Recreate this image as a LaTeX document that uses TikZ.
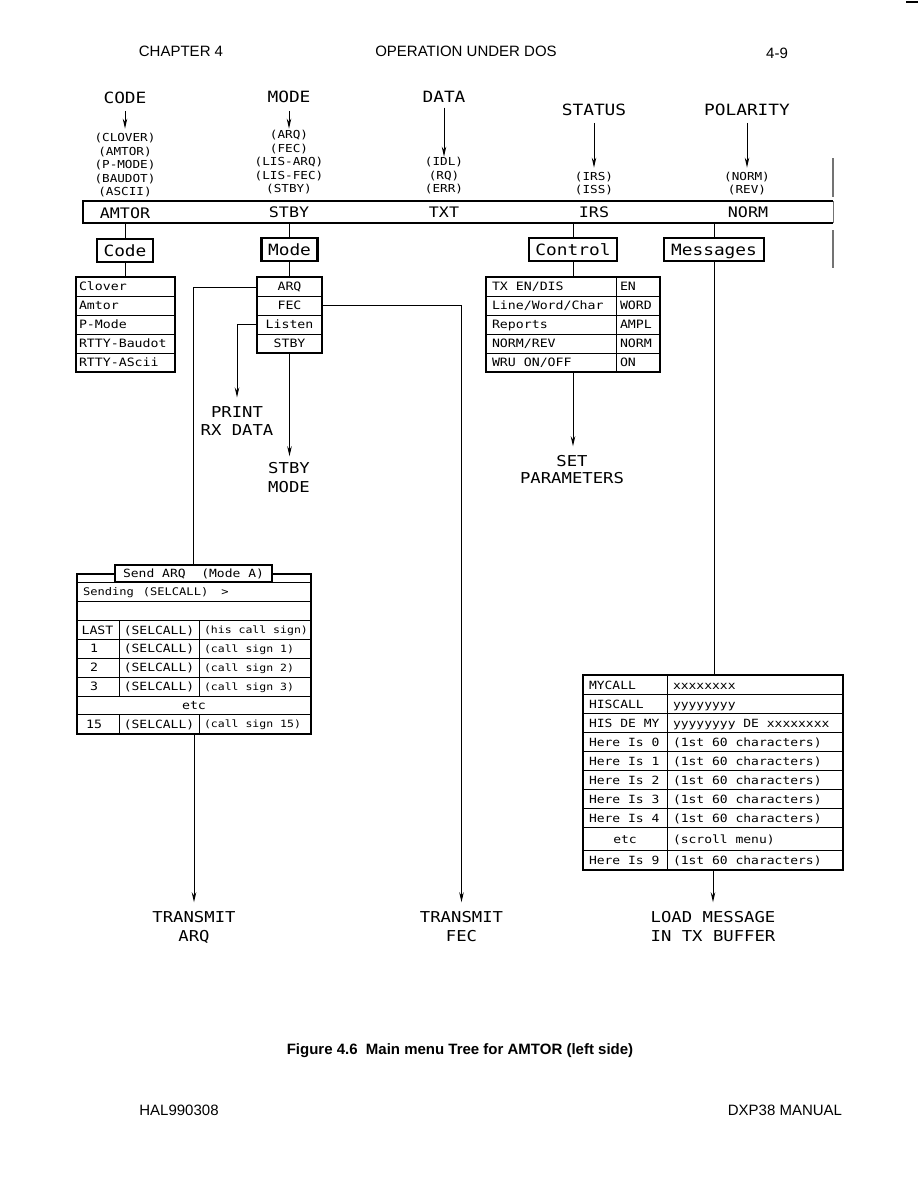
\documentclass[tikz,border=0pt]{standalone}
\usepackage{fontspec}
\setmainfont{Liberation Sans}
\newfontfamily\cadf[FakeStretch=1.15]{DejaVu Sans Mono}
\usetikzlibrary{arrows.meta}
\tikzset{
  cad/.style={font=\cadf\fontsize{#1}{#1}\selectfont, inner sep=0pt, outer sep=0pt, anchor=base, yshift={-0.36*#1pt}},
  txt/.style={font=\fontsize{#1}{#1}\selectfont, inner sep=0pt, outer sep=0pt, anchor=base, yshift={-0.36*#1pt}},
  heavy/.style={draw, line width=2.4pt, inner sep=0pt, outer sep=0pt},
  tbox/.style={draw, line width=2.4pt, inner sep=0pt, outer sep=0pt, text height=11pt, text depth=0pt, font=\cadf\fontsize{15.5}{15.5}\selectfont},
  thinl/.style={line width=0.9pt},
  conn/.style={line width=1pt},
  arr/.style={conn, -{Stealth[length=10pt,width=4.5pt]}},
}
\begin{document}
\begin{tikzpicture}[x=1pt,y=-1pt]
\useasboundingbox (0,0) rectangle (918,1188);

% page header / footer
\node[txt=15] (chap) at (181,51) {CHAPTER 4};
\node[txt=15] (optitle) at (466,51) {OPERATION UNDER DOS};
\node[txt=15] (pageno) at (777,53) {4-9};
\node[font=\bfseries\fontsize{15}{15}\selectfont, inner sep=0pt, anchor=base] (caption) at (460,1054.4) {Figure 4.6\ \ Main menu Tree for AMTOR (left side)};
\node[txt=15] (foot1) at (179,1110) {HAL990308};
\node[txt=15] (foot2) at (785,1110) {DXP38 MANUAL};
\draw[line width=2pt] (906,2) -- (918,2);

% top labels
\node[cad=15.5] (lcode) at (125,98) {CODE};
\node[cad=15.5] (lmode) at (289,97) {MODE};
\node[cad=15.5] (ldata) at (444,97) {DATA};
\node[cad=15.5] (lstat) at (594,110) {STATUS};
\node[cad=15.5] (lpol) at (747,110) {POLARITY};

\foreach \t [count=\i] in {(CLOVER),(AMTOR),(P-MODE),(BAUDOT),(ASCII)}
  \node[cad=11] (cl\i) at (125,{124.6+13.4*\i}) {\t};
\foreach \t [count=\i] in {(ARQ),(FEC),(LIS-ARQ),(LIS-FEC),(STBY)}
  \node[cad=11] (ml\i) at (289,{121.5+13.5*\i}) {\t};
\foreach \t [count=\i] in {(IDL),(RQ),(ERR)}
  \node[cad=11] (dl\i) at (444,{148.7+13.3*\i}) {\t};
\foreach \t [count=\i] in {(IRS),(ISS)}
  \node[cad=11] (sl\i) at (594,{164+13*\i}) {\t};
\foreach \t [count=\i] in {(NORM),(REV)}
  \node[cad=11] (pl\i) at (747,{164+13*\i}) {\t};

\draw[arr, shorten <=7pt, shorten >=5pt] (lcode) -- (cl1);
\draw[arr, shorten <=8pt, shorten >=2pt] (lmode) -- (ml1);
\draw[arr, shorten <=5pt, shorten >=1pt] (ldata) -- (dl1);
\draw[arr, shorten <=7pt, shorten >=5pt] (lstat) -- (sl1);
\draw[arr, shorten <=7pt, shorten >=5pt] (lpol) -- (pl1);

% status bar
\node[minimum width=750pt, minimum height=22pt, inner sep=0pt, outer sep=0pt, anchor=north west] (bar) at (83,201) {};
\draw[line width=2.6pt] (bar.north east) -- (bar.north west) -- (bar.south west) -- (bar.south east);
\draw[line width=1pt, black!55] (bar.north east) -- (bar.south east);
\draw[line width=1.3pt, black!55] (833,158) -- (833,197);
\draw[line width=1.3pt, black!55] (833,230) -- (833,268);
\node[cad=14.5] (bamtor) at (125,213) {AMTOR};
\node[cad=14.5] (bstby) at (289,212) {STBY};
\node[cad=14.5] (btxt) at (444,212) {TXT};
\node[cad=14.5] (birs) at (594,212) {IRS};
\node[cad=14.5] (bnorm) at (748,212) {NORM};

% menu title boxes
\node[tbox, minimum width=56pt, minimum height=23pt] (codebox) at (125,250.5) {Code};
\node[tbox, minimum width=56pt, minimum height=23pt] (modebox) at (289.5,249.5) {Mode};
\node[tbox, minimum width=88pt, minimum height=23pt] (ctlbox) at (573,249.5) {Control};
\node[tbox, minimum width=100pt, minimum height=23pt] (msgbox) at (714,249.5) {Messages};

\draw[conn] (codebox.north |- bar.south) -- (codebox.north);
\draw[conn] (modebox.north |- bar.south) -- (modebox.north);
\draw[conn] (ctlbox.north |- bar.south) -- (ctlbox.north);
\draw[conn] (msgbox.north |- bar.south) -- (msgbox.north);

% Code table
\node[heavy, minimum width=99pt, minimum height=95pt, anchor=north west] (codetab) at (76,277) {};
\foreach \y in {296,315,334,353} \draw[thinl] (76,\y) -- (175,\y);
\foreach \t [count=\i] in {Clover,Amtor,P-Mode,RTTY-Baudot,RTTY-AScii}
  \node[cad=11.5, anchor=base west] (ct\i) at (79,{267.5+19*\i}) {\t};
\draw[conn] (codebox.south) -- (codebox.south |- codetab.north);

% Mode table
\node[heavy, minimum width=65pt, minimum height=76pt, anchor=north west] (modetab) at (257,277) {};
\foreach \y in {296,315,334} \draw[thinl] (257,\y) -- (322,\y);
\foreach \t [count=\i] in {ARQ,FEC,Listen,STBY}
  \node[cad=11.5] (mt\i) at (289.5,{267.5+19*\i}) {\t};
\draw[conn] (modebox.south) -- (modebox.south |- modetab.north);

% Control table
\node[heavy, minimum width=174pt, minimum height=95pt, anchor=north west] (ctltab) at (486,277) {};
\foreach \y in {296,315,334,353} \draw[thinl] (486,\y) -- (660,\y);
\draw[thinl] (616,277) -- (616,372);
\foreach \t [count=\i] in {TX EN/DIS,Line/Word/Char,Reports,NORM/REV,WRU ON/OFF}
  \node[cad=11.5, anchor=base west] (cx\i) at (492,{267.5+19*\i}) {\t};
\foreach \t [count=\i] in {EN,WORD,AMPL,NORM,ON}
  \node[cad=11.5, anchor=base west] (cv\i) at (620,{267.5+19*\i}) {\t};
\draw[conn] (ctlbox.south) -- (ctlbox.south |- ctltab.north);

% Messages table
\node[heavy, minimum width=260pt, minimum height=195pt, anchor=north west] (msgtab) at (583,675) {};
\foreach \y in {694,713,732,751,770,789,808,827,850} \draw[thinl] (583,\y) -- (843,\y);
\draw[thinl] (667,675) -- (667,870);
\foreach \t/\y [count=\i] in {MYCALL/685,HISCALL/704,HIS DE MY/723,Here Is 0/742,Here Is 1/761,Here Is 2/780,Here Is 3/799,Here Is 4/818,Here Is 9/860}
  \node[cad=11.3, anchor=base west] (mk\i) at (589,\y) {\t};
\node[cad=11.3] (mketc) at (625,839) {etc};
\foreach \t/\y [count=\i] in {xxxxxxxx/685,yyyyyyyy/704,yyyyyyyy DE xxxxxxxx/723,(1st 60 characters)/742,(1st 60 characters)/761,(1st 60 characters)/780,(1st 60 characters)/799,(1st 60 characters)/818,(scroll menu)/839,(1st 60 characters)/860}
  \node[cad=11.3, anchor=base west] (mv\i) at (673,\y) {\t};
\draw[conn] (msgbox.south) -- (msgbox.south |- msgtab.north);

% Send ARQ table
\node[heavy, minimum width=234pt, minimum height=160pt, anchor=north west] (sendtab) at (77,574) {};
\foreach \y in {582,601,620,639,658,677,696,714} \draw[thinl] (77,\y) -- (311,\y);
\draw[thinl] (119,620) -- (119,696);
\draw[thinl] (199,620) -- (199,696);
\draw[thinl] (119,714) -- (119,734);
\draw[thinl] (199,714) -- (199,734);
\node[draw, line width=1.4pt, fill=white, inner sep=0pt, minimum width=157pt, minimum height=17pt, text height=8pt, text depth=0pt, font=\cadf\fontsize{11.3}{11.3}\selectfont] (sendhdr) at (193.5,573.5) {Send ARQ\ \ (Mode A)};
\node[cad=10.5, anchor=base west] (sq0) at (83,592) {Sending\hspace{9pt}(SELCALL)\hspace{13pt}>};
\node[cad=11.5] (sqa1) at (97.5,630) {LAST};
\node[cad=11.5] (sqa2) at (94,648.5) {1};
\node[cad=11.5] (sqa3) at (94,667.5) {2};
\node[cad=11.5] (sqa4) at (94,686.5) {3};
\node[cad=11.5] (sqa5) at (94,724) {15};
\foreach \y [count=\i] in {630,648.5,667.5,686.5,724}
  \node[cad=11.3] (sqb\i) at (159,\y) {(SELCALL)};
\foreach \t/\y [count=\i] in {(his call sign)/630,(call sign 1)/648.5,(call sign 2)/667.5,(call sign 3)/686.5,(call sign 15)/724}
  \node[cad=10, anchor=base west] (sqc\i) at (204,\y) {\t};
\node[cad=11.5] (sqetc) at (194,705) {etc};

% result labels
\node[cad=15] (pr1) at (237,412) {PRINT};
\node[cad=15] (pr2) at (237,430) {RX DATA};
\node[cad=15] (sb1) at (289,468) {STBY};
\node[cad=15] (sb2) at (289,487) {MODE};
\node[cad=15] (sp1) at (572,461) {SET};
\node[cad=15] (sp2) at (572,478) {PARAMETERS};
\node[cad=15] (ta1) at (194,917) {TRANSMIT};
\node[cad=15] (ta2) at (194,936) {ARQ};
\node[cad=15] (tf1) at (461.5,917) {TRANSMIT};
\node[cad=15] (tf2) at (461.5,936) {FEC};
\node[cad=15] (lm1) at (713,917) {LOAD MESSAGE};
\node[cad=15] (lm2) at (713,936) {IN TX BUFFER};

% connectors
\draw[conn] (modetab.west |- mt1) -| (sendhdr.north);
\draw[arr, shorten >=9pt] (modetab.east |- mt2) -| (tf1.north);
\draw[arr, shorten >=9pt] (modetab.west |- mt3) -| (pr1.north);
\draw[arr, shorten >=6pt] (modetab.south) -- (modetab.south |- sb1.north);
\draw[arr, shorten >=9pt] (ctltab.south) -- (ctltab.south |- sp1.north);
\draw[arr, shorten >=9pt] (msgtab.south) -- (msgtab.south |- lm1.north);
\draw[arr, shorten >=9pt] (sendtab.south) -- (sendtab.south |- ta1.north);
\end{tikzpicture}
\end{document}
